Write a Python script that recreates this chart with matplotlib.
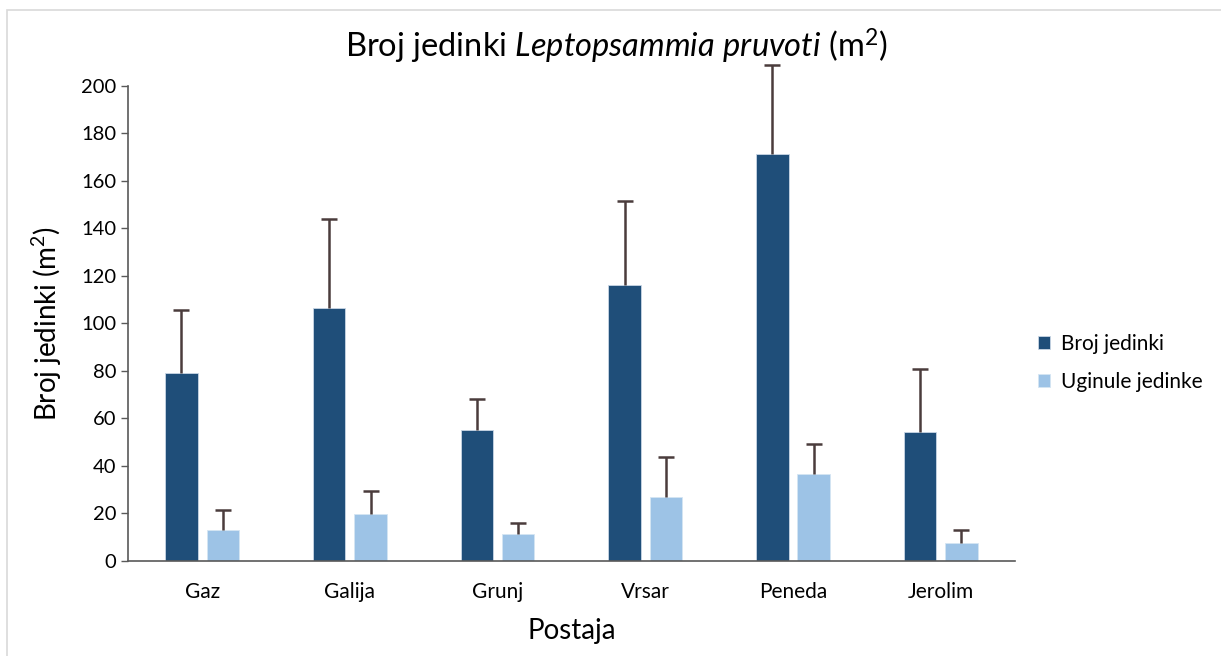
import matplotlib
matplotlib.use("Agg")
import matplotlib.pyplot as plt
import numpy as np
from matplotlib.patches import Rectangle

# Data
stations = ["Gaz", "Galija", "Grunj", "Vrsar", "Peneda", "Jerolim"]
live_mean = [79, 106.5, 55.3, 116.3, 171.5, 54.1]
live_err = [26.5, 37.5, 13.0, 35.3, 37.5, 26.8]
dead_mean = [12.9, 19.7, 11.4, 26.7, 36.4, 7.4]
dead_err = [8.4, 9.8, 4.7, 17.1, 12.8, 5.4]

DARK = "#1f4e79"
LIGHT = "#9dc3e6"
ERR = "#4a3c3c"

plt.rcParams["font.family"] = ["Lato", "DejaVu Sans"]
plt.rcParams["mathtext.fontset"] = "custom"
plt.rcParams["mathtext.rm"] = "Lato"
plt.rcParams["mathtext.it"] = "Lato:italic"

fig = plt.figure(figsize=(12.21, 6.56), dpi=100)
ax = fig.add_axes([0.105, 0.145, 0.726, 0.724])

x = np.arange(len(stations))
w = 0.22
gap = 0.06
off = (w + gap) / 2


def bars_with_err(pos, mean, err, color, edge, label):
    ax.bar(pos, mean, w, color=color, label=label, edgecolor=edge, linewidth=0.6)
    mean = np.array(mean)
    err = np.array(err)
    # one-sided (upper) error bars, cap only at the top
    ax.errorbar(pos, mean, yerr=[np.zeros(len(err)), err], fmt="none",
                ecolor=ERR, elinewidth=1.8, capsize=0, clip_on=False)
    ax.plot(pos, mean + err, linestyle="none", marker="_", markersize=12,
            markeredgewidth=1.8, color=ERR, clip_on=False)


bars_with_err(x - off, live_mean, live_err, DARK, "#c9d6e6", "Broj jedinki")
bars_with_err(x + off, dead_mean, dead_err, LIGHT, "#d5e5f3", "Uginule jedinke")

ax.set_xlim(-0.5, len(stations) - 0.5)
ax.set_ylim(0, 200)
ax.set_yticks(np.arange(0, 201, 20))
ax.set_xticks(x)
ax.set_xticklabels(stations, fontsize=15)
ax.tick_params(axis="y", labelsize=14.5, length=5, color="#595959", width=1)
ax.tick_params(axis="x", length=0, pad=15)

for s in ["top", "right"]:
    ax.spines[s].set_visible(False)
for s in ["left", "bottom"]:
    ax.spines[s].set_color("#595959")
    ax.spines[s].set_linewidth(1.2)

ax.set_xlabel("Postaja", fontsize=20, labelpad=12)
ax.set_ylabel("Broj jedinki (m$^2$)", fontsize=20, labelpad=12)
ax.set_title("Broj jedinki $\\mathit{Leptopsammia\\ pruvoti}$ (m$^2$)", fontsize=23.5,
             pad=20, x=0.551)

ax.legend(loc="center left", bbox_to_anchor=(1.005, 0.417), frameon=False,
          fontsize=15, handlelength=0.6, handleheight=0.6, handletextpad=0.5,
          labelspacing=0.85)

# light frame around the chart area
fig.patches.append(Rectangle((0.006, -0.01), 1.0, 0.995, transform=fig.transFigure,
                             fill=False, edgecolor="#d9d9d9", linewidth=1.2))

fig.savefig("out.png", dpi=100)
